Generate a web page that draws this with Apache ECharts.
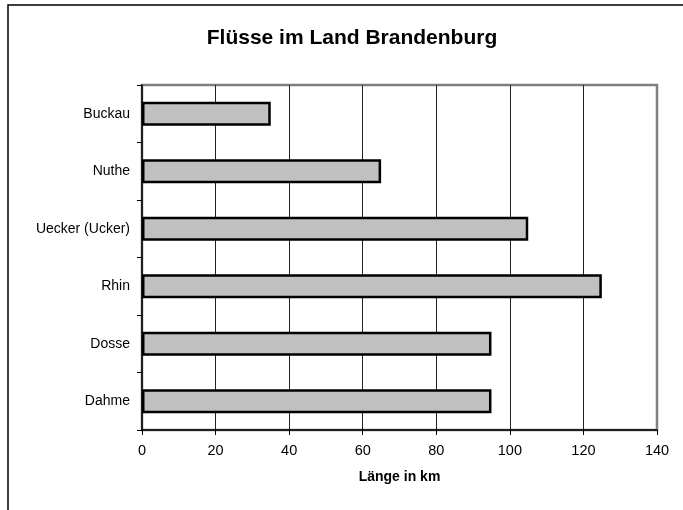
<!DOCTYPE html>
<html>
<head>
<meta charset="utf-8">
<script src="https://cdn.jsdelivr.net/npm/echarts@6/dist/echarts.min.js"></script>
<style>html,body{margin:0;padding:0;background:#fff}#c{width:683px;height:510px}</style>
</head>
<body>
<div id="c"></div>
<script>
var categories = ["Dahme", "Dosse", "Rhin", "Uecker (Ucker)", "Nuthe", "Buckau"];
var lengths = [95, 95, 125, 105, 65, 35];
var xTicks = { min: 0, max: 140, interval: 20 };
var titleText = "Flüsse im Land Brandenburg";
var xAxisTitle = "Länge in km";

var chart = echarts.init(document.getElementById('c'), null, {renderer: 'canvas'});
var font = 'Arial, "Liberation Sans", sans-serif';
chart.setOption({
  backgroundColor: '#fff',
  animation: false,
  title: {
    text: titleText,
    left: 347, top: 23,
    textAlign: 'center',
    textStyle: {fontFamily: font, fontSize: 21, fontWeight: 'bold', color: '#000'}
  },
  graphic: [{
    type: 'rect', silent: true, z: -1,
    shape: {x: 8, y: 5, width: 700, height: 520},
    style: {fill: null, stroke: '#000', lineWidth: 1.5}
  }],
  grid: {left: 142, right: 26, top: 85, bottom: 80, show: true, borderColor: '#808080', borderWidth: 2.5, containLabel: false},
  xAxis: {
    type: 'value', min: xTicks.min, max: xTicks.max, interval: xTicks.interval,
    name: xAxisTitle, nameLocation: 'middle', nameGap: 40,
    nameTextStyle: {fontFamily: font, fontSize: 14, fontWeight: 'bold', color: '#000'},
    axisLine: {show: true, lineStyle: {color: '#000', width: 1.5}},
    axisTick: {show: true, length: 5, lineStyle: {color: '#000'}},
    axisLabel: {fontFamily: font, fontSize: 14.5, color: '#000', margin: 13},
    splitLine: {show: true, showMaxLine: false, showMinLine: false, lineStyle: {color: '#222', width: 1}}
  },
  yAxis: {
    type: 'category', data: categories, boundaryGap: true,
    axisLine: {show: true, lineStyle: {color: '#000', width: 1.5}},
    axisTick: {show: true, length: 5, alignWithLabel: false, lineStyle: {color: '#000'}},
    axisLabel: {fontFamily: font, fontSize: 14, color: '#000', margin: 12},
    splitLine: {show: false}
  },
  series: [{
    type: 'bar', data: lengths, barWidth: '42%',
    itemStyle: {color: '#c0c0c0', borderColor: '#000', borderWidth: 2.5}
  }]
});
</script>
</body>
</html>
